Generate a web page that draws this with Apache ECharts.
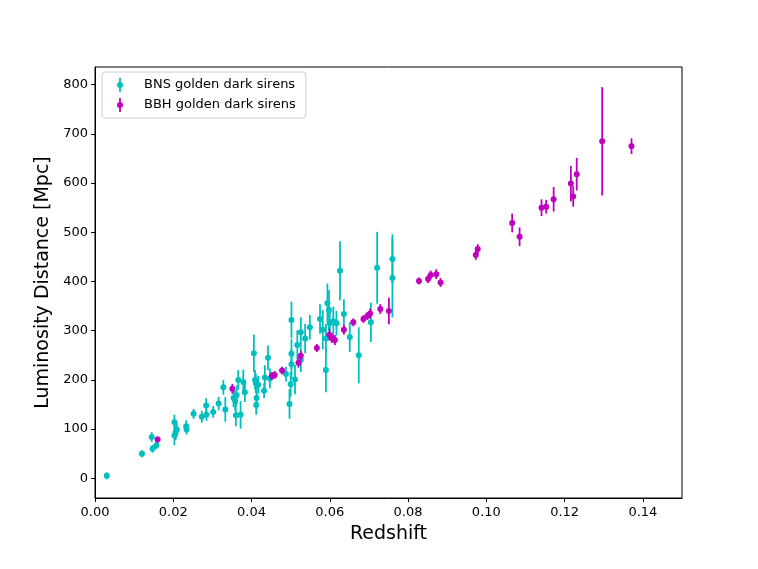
<!DOCTYPE html>
<html>
<head>
<meta charset="utf-8">
<script src="https://cdn.jsdelivr.net/npm/echarts@6/dist/echarts.min.js"></script>
<style>
html,body{margin:0;padding:0;background:#fff;}
#chart{width:758px;height:569px;}
</style>
</head>
<body>
<div id="chart"></div>
<script>
// BNS golden dark sirens: redshift, luminosity distance [Mpc], 1-sigma error
const bnsZ = [0.0030,0.0120,0.0145,0.0147,0.0157,0.0203,0.0203,0.0209,0.0206,0.0233,0.0234,0.0252,0.0273,0.0285,0.0284,0.0302,0.0316,0.0328,0.0333,0.0354,0.0358,0.0360,0.0372,0.0362,0.0366,0.0379,0.0383,0.0406,0.0409,0.0411,0.0413,0.0412,0.0417,0.0432,0.0434,0.0442,0.0447,0.0488,0.0497,0.0500,0.0502,0.0502,0.0502,0.0511,0.0517,0.0526,0.0537,0.0549,0.0575,0.0582,0.0590,0.0590,0.0594,0.0598,0.0600,0.0609,0.0617,0.0626,0.0636,0.0651,0.0674,0.0705,0.0721,0.0760,0.0760,0.0526];
const bnsD = [5,50,84,60,67,114,87,99,93,106,99,131,125,129,148,135,152,185,140,163,158,128,129,169,200,196,175,254,200,193,163,149,190,178,205,245,203,212,151,191,232,253,322,201,271,297,284,307,324,302,284,220,356,342,315,319,315,422,334,287,250,317,428,446,407,241];
const bnsErr = [7,7,10,8,8,15,20,14,15,12,10,10,12,12,15,12,14,15,25,18,20,22,28,20,20,25,20,38,20,20,25,20,18,15,25,25,20,15,30,25,30,30,37,30,30,30,30,25,30,40,30,45,40,40,30,30,25,60,30,30,57,40,73,50,80,25];

// BBH golden dark sirens
const bbhZ = [0.0160,0.0351,0.0452,0.0459,0.0478,0.0520,0.0526,0.0567,0.0599,0.0605,0.0613,0.0636,0.0660,0.0686,0.0696,0.0703,0.0729,0.0751,0.0828,0.0851,0.0858,0.0872,0.0883,0.0973,0.0978,0.1066,0.1085,0.1141,0.1153,0.1172,0.1216,0.1222,0.1231,0.1296,0.1371];
const bbhD = [79,182,208,210,219,235,249,265,292,285,281,302,317,324,330,335,344,340,401,405,413,415,398,454,466,519,491,550,552,567,599,573,618,685,675];
const bbhErr = [6,10,8,8,8,10,10,8,12,10,10,10,8,8,8,10,10,27,7,8,9,10,9,10,10,19,19,17,14,25,36,21,33,110,16];

const xTicks = [0,0.02,0.04,0.06,0.08,0.10,0.12,0.14];
const yTicks = [0,100,200,300,400,500,600,700,800];

const BNS_NAME = 'BNS golden dark sirens';
const BBH_NAME = 'BBH golden dark sirens';
const CYAN = '#00BFBF';
const MAGENTA = '#BF00BF';
const FONT = 'DejaVu Sans';

function rows(z, d, e) { return z.map((v, i) => [v, d[i], e[i]]); }

function errRender(color) {
  return function (params, api) {
    const x = api.value(0), y = api.value(1), e = api.value(2);
    const p1 = api.coord([x, y - e]);
    const p2 = api.coord([x, y + e]);
    return {
      type: 'line',
      shape: { x1: p1[0], y1: p1[1], x2: p2[0], y2: p2[1] },
      style: { stroke: color, lineWidth: 1.8 }
    };
  };
}

const iconPath = 'path://M2.1,0 L3.9,0 L3.9,5 L2.1,5 Z M2.1,9 L3.9,9 L3.9,14 L2.1,14 Z M0,7 A3,3 0 1,1 6,7 A3,3 0 1,1 0,7 Z';

const chart = echarts.init(document.getElementById('chart'), null, { renderer: 'canvas' });
chart.setOption({
  animation: false,
  backgroundColor: '#ffffff',
  grid: { left: 95, right: 76, top: 67, bottom: 71, show: true, borderColor: '#000', borderWidth: 1, backgroundColor: 'transparent' },
  legend: {
    orient: 'vertical',
    left: 102, top: 72,
    padding: [6, 10, 6, 15],
    itemGap: 6,
    itemWidth: 6, itemHeight: 14,
    borderColor: '#cccccc', borderWidth: 1, borderRadius: 3,
    backgroundColor: 'rgba(255,255,255,0.8)',
    textStyle: { fontFamily: FONT, fontSize: 13, color: '#000', padding: [0, 0, 0, 16] },
    data: [
      { name: BNS_NAME, icon: iconPath, itemStyle: { color: CYAN } },
      { name: BBH_NAME, icon: iconPath, itemStyle: { color: MAGENTA } }
    ]
  },
  xAxis: {
    type: 'value', min: 0, max: 0.15,
    name: 'Redshift', nameLocation: 'middle', nameGap: 27,
    nameTextStyle: { fontFamily: FONT, fontSize: 19, color: '#000' },
    axisLine: { show: true, onZero: false, lineStyle: { color: '#000', width: 1 } },
    axisTick: { show: true, inside: false, length: 4, lineStyle: { color: '#000' }, customValues: xTicks },
    axisLabel: { fontFamily: FONT, fontSize: 13, color: '#000', margin: 8, customValues: xTicks, formatter: v => v.toFixed(2) },
    splitLine: { show: false }
  },
  yAxis: {
    type: 'value', min: -40, max: 836,
    name: 'Luminosity Distance [Mpc]', nameLocation: 'middle', nameGap: 37,
    nameTextStyle: { fontFamily: FONT, fontSize: 19, color: '#000' },
    axisLine: { show: true, onZero: false, lineStyle: { color: '#000', width: 1 } },
    axisTick: { show: true, inside: false, length: 4, lineStyle: { color: '#000' }, customValues: yTicks },
    axisLabel: { fontFamily: FONT, fontSize: 13, color: '#000', margin: 7, customValues: yTicks },
    splitLine: { show: false }
  },
  series: [
    { name: BNS_NAME, type: 'custom', data: rows(bnsZ, bnsD, bnsErr), renderItem: errRender(CYAN), encode: { x: 0, y: 1 }, itemStyle: { color: CYAN }, z: 2 },
    { name: BNS_NAME, type: 'scatter', data: rows(bnsZ, bnsD, bnsErr), symbol: 'circle', symbolSize: 6, itemStyle: { color: CYAN, opacity: 1 }, encode: { x: 0, y: 1 }, z: 3 },
    { name: BBH_NAME, type: 'custom', data: rows(bbhZ, bbhD, bbhErr), renderItem: errRender(MAGENTA), encode: { x: 0, y: 1 }, itemStyle: { color: MAGENTA }, z: 4 },
    { name: BBH_NAME, type: 'scatter', data: rows(bbhZ, bbhD, bbhErr), symbol: 'circle', symbolSize: 6, itemStyle: { color: MAGENTA, opacity: 1 }, encode: { x: 0, y: 1 }, z: 5 }
  ]
});
</script>
</body>
</html>
